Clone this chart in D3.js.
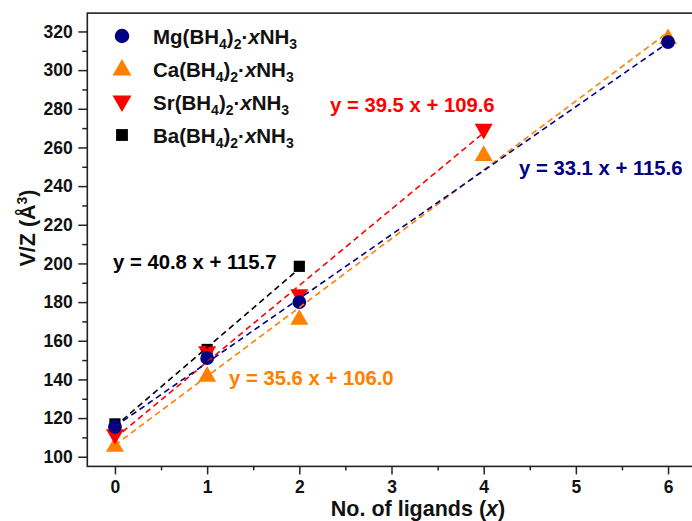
<!DOCTYPE html>
<html><head><meta charset="utf-8">
<script src="https://cdn.jsdelivr.net/npm/d3@7"></script>
<style>body{margin:0;background:#fff}svg{display:block}text{font-family:"Liberation Sans",Arial,sans-serif;font-weight:bold}</style>
</head><body>
<svg id="c" width="692" height="521"></svg>
<script>
// ---- data ----
const mgX = [0, 1, 2, 6];
const mgY = [115.5, 151, 180, 314.5];
const caX = [0, 1, 2, 4, 6];
const caY = [106, 142.3, 171.7, 256.5, 317];
const srX = [0, 1, 2, 4];
const srY = [111, 154, 183.5, 269];
const baX = [0, 1, 2];
const baY = [117, 155.5, 198.5];
const fitSlope = {Mg: 33.1, Ca: 35.6, Sr: 39.5, Ba: 40.8};
const fitIntercept = {Mg: 115.6, Ca: 106.0, Sr: 109.6, Ba: 115.7};
const fitLabels = {Mg: "y = 33.1 x + 115.6", Ca: "y = 35.6 x + 106.0", Sr: "y = 39.5 x + 109.6", Ba: "y = 40.8 x + 115.7"};
const xTicks = [0, 1, 2, 3, 4, 5, 6];
const yTicks = [100, 120, 140, 160, 180, 200, 220, 240, 260, 280, 300, 320];
const legendMetals = ["Mg", "Ca", "Sr", "Ba"];

const colors = {Mg: "#000080", Ca: "#FF8000", Sr: "#FF0000", Ba: "#000000"};
const shapes = {Mg: d3.symbolCircle, Ca: d3.symbolTriangle, Sr: d3.symbolTriangle, Ba: d3.symbolSquare};
const rot = {Mg: 0, Ca: 0, Sr: 180, Ba: 0};
const sizes = {Mg: 150, Ca: 140, Sr: 140, Ba: 125};

const series = {
  Mg: mgX.map((x, i) => ({x, y: mgY[i]})),
  Ca: caX.map((x, i) => ({x, y: caY[i]})),
  Sr: srX.map((x, i) => ({x, y: srY[i]})),
  Ba: baX.map((x, i) => ({x, y: baY[i]}))
};

const svg = d3.select("#c");
const x = d3.scaleLinear().domain([-0.3, 6.3]).range([87.3, 695.7]);
const y = d3.scaleLinear().domain([95, 329.5]).range([466.4, 13.1]);

// axes
const xAxis = svg.append("g").attr("transform", `translate(0,${y(95)})`)
  .call(d3.axisBottom(x).tickValues(xTicks).tickFormat(d3.format("d")).tickSize(8).tickSizeOuter(0));
const xMinor = svg.append("g").attr("transform", `translate(0,${y(95)})`)
  .call(d3.axisBottom(x).tickValues(xTicks.map(t => t + 0.5).filter(t => t < 6.3)).tickFormat("").tickSize(4).tickSizeOuter(0));
const yAxis = svg.append("g").attr("transform", `translate(${x(-0.3)},0)`)
  .call(d3.axisLeft(y).tickValues(yTicks).tickSize(9).tickSizeOuter(0));
const yMinor = svg.append("g").attr("transform", `translate(${x(-0.3)},0)`)
  .call(d3.axisLeft(y).tickValues(yTicks.map(t => t + 10).filter(t => t < 329)).tickFormat("").tickSize(5).tickSizeOuter(0));
[xAxis, xMinor, yAxis, yMinor].forEach(g => {
  g.select(".domain").remove();
  g.selectAll("line").attr("stroke", "#222").attr("stroke-width", 1.5);
  g.selectAll("text").attr("fill", "#111").style("font-size", "17.5px").style("font-weight", "bold")
    .style("font-family", "'Liberation Sans',Arial,sans-serif");
});
xAxis.selectAll("text").attr("dy", "0.92em");
yAxis.selectAll("text").attr("dx", "-0.15em");

// frame
svg.append("rect").attr("x", x(-0.3)).attr("y", y(329.5)).attr("width", x(6.3) - x(-0.3)).attr("height", y(95) - y(329.5))
  .attr("fill", "none").attr("stroke", "#222").attr("stroke-width", 1.6);

// markers (order: Ba, Ca, Sr, Mg)
["Ba", "Ca", "Sr", "Mg"].forEach(k => {
  svg.append("g").selectAll("path").data(series[k]).join("path")
    .attr("d", d3.symbol(shapes[k], sizes[k]))
    .attr("transform", d => `translate(${x(d.x)},${y(d.y) + (k === "Sr" ? -1 : (k === "Ca" ? 1.5 : 0))}) rotate(${rot[k]})`)
    .attr("fill", colors[k]);
});

// fit lines
["Ba", "Ca", "Sr", "Mg"].forEach(k => {
  const xs = series[k].map(d => d.x);
  const x0 = d3.min(xs), x1 = d3.max(xs);
  svg.append("line")
    .attr("x1", x(x0)).attr("y1", y(fitIntercept[k] + fitSlope[k] * x0))
    .attr("x2", x(x1)).attr("y2", y(fitIntercept[k] + fitSlope[k] * x1))
    .attr("stroke", colors[k]).attr("stroke-width", 1.6).attr("stroke-dasharray", "6,4");
});

// fit labels
const labelPos = {Sr: [330, 112], Mg: [519, 175], Ba: [113, 269], Ca: [229, 385]};
legendMetals.forEach(k => {
  svg.append("text").attr("x", labelPos[k][0]).attr("y", labelPos[k][1])
    .attr("fill", colors[k]).style("font-size", "20.3px").text(fitLabels[k]);
});

// legend
legendMetals.forEach((k, i) => {
  const cy = 36 + i * 33;
  svg.append("path").attr("d", d3.symbol(shapes[k], sizes[k] + 15))
    .attr("transform", `translate(122,${cy + (k === "Sr" ? -1 : (k === "Ca" ? 1 : 0))}) rotate(${rot[k]})`)
    .attr("fill", colors[k]);
  const t = svg.append("text").attr("x", 153).attr("y", cy + 7.5).attr("fill", "#111").style("font-size", "20.5px");
  t.append("tspan").text(k + "(BH");
  t.append("tspan").attr("dy", 5).style("font-size", "14px").text("4");
  t.append("tspan").attr("dy", -5).text(")");
  t.append("tspan").attr("dy", 5).style("font-size", "14px").text("2");
  t.append("tspan").attr("dy", -5).text("·");
  t.append("tspan").style("font-style", "italic").text("x");
  t.append("tspan").text("NH");
  t.append("tspan").attr("dy", 5).style("font-size", "14px").text("3");
});

// axis titles
svg.append("text").attr("x", 418).attr("y", 516).attr("text-anchor", "middle").attr("fill", "#111")
  .style("font-size", "21.5px")
  .call(t => { t.append("tspan").text("No. of ligands ("); t.append("tspan").style("font-style", "italic").text("x"); t.append("tspan").text(")"); });
svg.append("text").attr("transform", "translate(35,228) rotate(-90)").attr("text-anchor", "middle").attr("fill", "#111")
  .style("font-size", "21.5px")
  .call(t => { t.append("tspan").text("V/Z (Å"); t.append("tspan").attr("dy", -8).style("font-size", "14px").text("3"); t.append("tspan").attr("dy", 8).text(")"); });
</script>
</body></html>
